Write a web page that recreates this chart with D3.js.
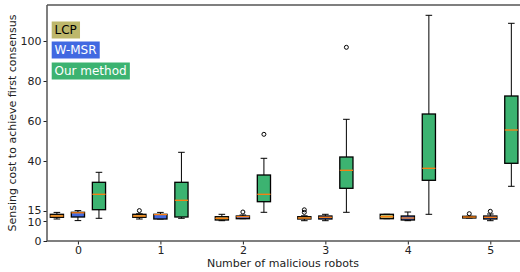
<!DOCTYPE html>
<html><head><meta charset="utf-8">
<script src="https://cdn.jsdelivr.net/npm/d3@7"></script>
<style>body{margin:0;background:#fff}svg{display:block}text{font-family:"DejaVu Sans",sans-serif}</style>
</head><body><div id="c"></div>
<script>
const categories = [0,1,2,3,4,5];
const methods = ["LCP","W-MSR","Our method"];
const colors = ["#bdb76b","#4169e1","#3cb371"];
const yTicks = [0,10,15,40,60,80,100];
// [whiskerLo, q1, median, q3, whiskerHi]
const lcp = [[11,11.85,12.5,13.35,14.3],[11,11.85,12.5,13.35,13.6],[10.15,10.5,11.35,12.15,13.35],[10.15,11,11.5,12.15,12.6],[11.15,11.15,12.15,13.35,13.35],[11.5,11.5,12,12.35,12.35]];
const wmsr = [[10.2,12,14.1,14.35,15.2],[11,11,13.2,13.35,14.3],[11.15,11.15,12.15,12.5,13],[10.15,11,11.85,12.5,13.35],[10.15,10.5,11.5,12.5,14.5],[10.15,11,11.85,12.5,13.5]];
const ours = [[11.35,15.65,23.35,29.35,34.35],[11.35,12,20.35,29.35,44.35],[14.35,19.65,23.35,33,41.35],[14.35,26.35,35.35,42,60.85],[13.35,30.35,36.35,63.5,112.85],[27.35,38.85,55.5,72.5,108.85]];
const lcpOut = [[],[15.2],[],[15.6,14.3],[],[13.65]];
const wmsrOut = [[],[],[14.5],[],[],[14.85]];
const oursOut = [[],[],[53.35],[96.85],[],[]];
const series = [lcp, wmsr, ours];
const outliers = [lcpOut, wmsrOut, oursOut];

const W=520,H=272;
const svg=d3.select("#c").append("svg").attr("width",W).attr("height",H);
const x=d3.scaleLinear().domain([-0.375,5.36]).range([47,520]);
const y=d3.scaleLinear().domain([0,118]).range([241,5]);
const offsets=[-0.255,0,0.255], bw=0.16;
const g=svg.append("g");

series.forEach((s,mi)=>{
  s.forEach((d,ci)=>{
    const cx=x(categories[ci]+offsets[mi]);
    const hw=(x(bw)-x(0))/2;
    const gg=g.append("g");
    gg.append("line").attr("x1",cx).attr("x2",cx).attr("y1",y(d[0])).attr("y2",y(d[1])).attr("stroke","#000").attr("stroke-width",1);
    gg.append("line").attr("x1",cx).attr("x2",cx).attr("y1",y(d[3])).attr("y2",y(d[4])).attr("stroke","#000").attr("stroke-width",1);
    [d[0],d[4]].forEach(v=>gg.append("line").attr("x1",cx-hw/2).attr("x2",cx+hw/2).attr("y1",y(v)).attr("y2",y(v)).attr("stroke","#000").attr("stroke-width",1));
    gg.append("rect").attr("x",cx-hw).attr("width",2*hw).attr("y",y(d[3])).attr("height",Math.max(1,y(d[1])-y(d[3])))
      .attr("fill",colors[mi]).attr("stroke","#000").attr("stroke-width",1.3);
    gg.append("line").attr("x1",cx-hw).attr("x2",cx+hw).attr("y1",y(d[2])).attr("y2",y(d[2])).attr("stroke","#ff7f0e").attr("stroke-width",1.3);
    outliers[mi][ci].forEach(v=>gg.append("circle").attr("cx",cx).attr("cy",y(v)).attr("r",2).attr("fill","none").attr("stroke","#000").attr("stroke-width",1));
  });
});

const xa=svg.append("g").attr("transform","translate(0,241)").call(d3.axisBottom(x).tickValues(categories).tickFormat(d3.format("d")).tickSize(3.5).tickPadding(2));
const ya=svg.append("g").attr("transform","translate(47,0)").call(d3.axisLeft(y).tickValues(yTicks).tickFormat(d3.format("d")).tickSize(3.5).tickPadding(2));
[xa,ya].forEach(a=>{a.select(".domain").remove();a.selectAll("text").attr("font-size",11).attr("fill","#222").style("font-family","DejaVu Sans");a.selectAll("line").attr("stroke","#222");});
// nudge the crowded 10/15 labels apart slightly
ya.selectAll(".tick").filter(d=>d===15).select("text").attr("dy","0.2em");
ya.selectAll(".tick").filter(d=>d===10).select("text").attr("dy","0.42em");
svg.append("line").attr("x1",47).attr("x2",520).attr("y1",241).attr("y2",241).attr("stroke","#555").attr("stroke-width",1.5);
svg.append("line").attr("x1",47).attr("x2",520).attr("y1",5).attr("y2",5).attr("stroke","#555").attr("stroke-width",1.5);
svg.append("line").attr("x1",47).attr("x2",47).attr("y1",5).attr("y2",241).attr("stroke","#555").attr("stroke-width",1.5);

svg.append("text").attr("x",283).attr("y",267).attr("text-anchor","middle").attr("font-size",11).attr("fill","#222").text("Number of malicious robots");
svg.append("text").attr("transform","translate(16,123) rotate(-90)").attr("text-anchor","middle").attr("font-size",11).attr("fill","#222").text("Sensing cost to achieve first consensus");

const leg=[{t:"LCP",c:colors[0],tc:"#000",y:30},{t:"W-MSR",c:colors[1],tc:"#fff",y:50},{t:"Our method",c:colors[2],tc:"#fff",y:71}];
leg.forEach(l=>{
  const lg=svg.append("g");
  const r=lg.append("rect").attr("fill",l.c);
  const t=lg.append("text").attr("x",54.5).attr("y",l.y+4.3).attr("font-size",12).attr("fill",l.tc).text(l.t);
  const b=t.node().getBBox();
  r.attr("x",51.7).attr("y",l.y-8.5).attr("width",b.width+6).attr("height",17);
});
</script></body></html>
